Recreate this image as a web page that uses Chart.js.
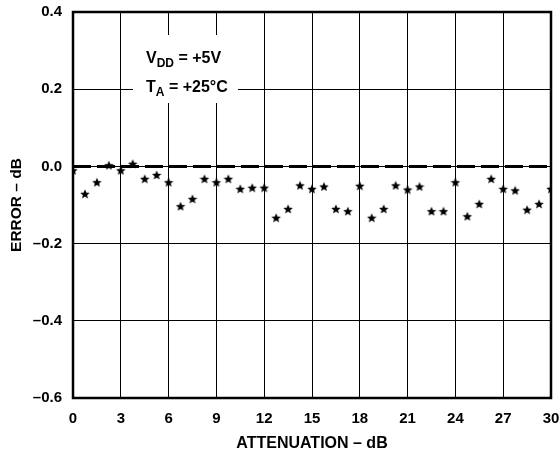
<!DOCTYPE html>
<html>
<head>
<meta charset="utf-8">
<script src="https://cdn.jsdelivr.net/npm/chart.js@4/dist/chart.umd.min.js"></script>
<style>
body { margin: 0; background: #fff; }
</style>
</head>
<body>
<canvas id="chart" width="560" height="454"></canvas>
<script>
// attenuation steps (dB) and measured error (dB)
var attenuation = [0, 0.75, 1.5, 2.25, 3, 3.75, 4.5, 5.25, 6, 6.75, 7.5, 8.25, 9, 9.75, 10.5, 11.25, 12, 12.75, 13.5, 14.25, 15,
    15.75, 16.5, 17.25, 18, 18.75, 19.5, 20.25, 21, 21.75, 22.5, 23.25, 24, 24.75, 25.5, 26.25, 27, 27.75, 28.5, 29.25, 30];
var errorDb = [-0.010, -0.071, -0.041, 0.003, -0.010, 0.007, -0.032, -0.022, -0.041, -0.103, -0.084, -0.032, -0.041, -0.032,
    -0.058, -0.055, -0.055, -0.133, -0.110, -0.049, -0.058, -0.052, -0.110, -0.116, -0.050, -0.133, -0.110, -0.049, -0.060,
    -0.052, -0.116, -0.116, -0.041, -0.129, -0.097, -0.032, -0.058, -0.062, -0.112, -0.097, -0.058];
var zeroLine = [{x: 0, y: 0}, {x: 30, y: 0}];
var xRange = [0, 30, 3];
var yRange = [-0.6, 0.4, 0.2];
var noteLines = ["V|DD| = +5V", "T|A| = +25°C"];

var FONT = "'Liberation Sans', Arial, sans-serif";

function makeStar(size) {
    var c = document.createElement("canvas");
    c.width = size;
    c.height = size;
    var g = c.getContext("2d");
    var cx = size / 2, cy = size / 2 + 0.5, R = size / 2, r = R * 0.45;
    g.beginPath();
    for (var i = 0; i < 10; i++) {
        var a = -Math.PI / 2 + i * Math.PI / 5;
        var rr = (i % 2 == 0) ? R : r;
        g.lineTo(cx + rr * Math.cos(a), cy + rr * Math.sin(a));
    }
    g.closePath();
    g.fillStyle = "#000";
    g.fill();
    return c;
}

var points = attenuation.map(function (a, i) {
    return {x: a, y: errorDb[i]};
});

// white note box with subscripted text, and thick frame
var notePlugin = {
    id: "note",
    afterDraw: function (chart) {
        var ctx = chart.ctx;
        var a = chart.chartArea;
        ctx.save();
        ctx.fillStyle = "#fff";
        ctx.fillRect(133, 35, 105, 68);
        ctx.fillStyle = "#000";
        ctx.textBaseline = "alphabetic";
        var baseY = [63, 92];
        noteLines.forEach(function (line, k) {
            var parts = line.split("|");
            var x = 146;
            ctx.font = "bold 16px " + FONT;
            ctx.fillText(parts[0], x, baseY[k]);
            x += ctx.measureText(parts[0]).width;
            ctx.font = "bold 12px " + FONT;
            ctx.fillText(parts[1], x, baseY[k] + 4);
            x += ctx.measureText(parts[1]).width;
            ctx.font = "bold 16px " + FONT;
            ctx.fillText(parts[2], x, baseY[k]);
        });
        ctx.lineWidth = 2.5;
        ctx.strokeStyle = "#000";
        ctx.strokeRect(a.left, a.top, a.right - a.left, a.bottom - a.top);
        ctx.restore();
    }
};

var myChart = new Chart(document.getElementById("chart"), {
    type: "scatter",
    data: {
        datasets: [{
            label: "zero",
            type: "line",
            data: zeroLine,
            borderColor: "#000",
            borderWidth: 3,
            borderDash: [18, 6],
            pointRadius: 0,
            order: 2
        }, {
            label: "Error",
            data: points,
            pointStyle: makeStar(10),
            pointRadius: 5,
            order: 1
        }]
    },
    options: {
        responsive: false,
        animation: false,
        devicePixelRatio: 1,
        layout: {padding: {top: 12, right: 9, left: 0, bottom: 0}},
        plugins: {legend: {display: false}, tooltip: {enabled: false}},
        scales: {
            x: {
                type: "linear",
                min: xRange[0],
                max: xRange[1],
                ticks: {
                    stepSize: xRange[2],
                    color: "#000",
                    padding: 12,
                    font: {family: FONT, size: 15, weight: "bold"}
                },
                grid: {color: "#000", lineWidth: 1, drawTicks: false},
                border: {color: "#000", width: 2},
                title: {
                    display: true,
                    text: "ATTENUATION – dB",
                    color: "#000",
                    padding: {top: 0, bottom: 1},
                    font: {family: FONT, size: 16, weight: "bold"}
                },
                afterFit: function (s) {
                    s.height = 56;
                    s.paddingLeft = 0;
                    s.paddingRight = 0;
                }
            },
            y: {
                min: yRange[0],
                max: yRange[1],
                ticks: {
                    stepSize: yRange[2],
                    color: "#000",
                    padding: 11,
                    font: {family: FONT, size: 15, weight: "bold"},
                    callback: function (v) {
                        if (Math.abs(v) < 1e-9) v = 0;
                        return v.toFixed(1).replace("-", "–");
                    }
                },
                grid: {color: "#000", lineWidth: 1, drawTicks: false},
                border: {color: "#000", width: 2},
                title: {
                    display: true,
                    text: "ERROR – dB",
                    color: "#000",
                    padding: {top: 7, bottom: 0},
                    font: {family: FONT, size: 15.5, weight: "bold"}
                },
                afterFit: function (s) {
                    s.width = 73;
                    s.paddingTop = 0;
                    s.paddingBottom = 0;
                }
            }
        }
    },
    plugins: [notePlugin]
});
</script>
</body>
</html>
